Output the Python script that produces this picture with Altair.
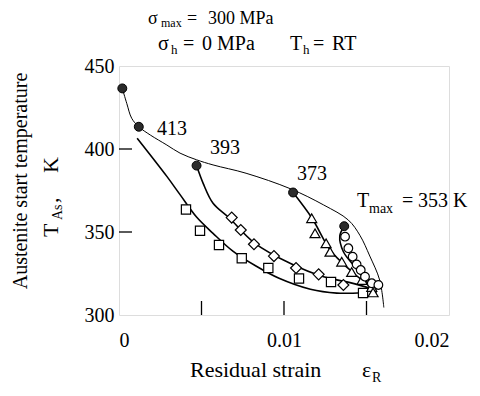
import altair as alt
import pandas as pd

FONT = "'Liberation Serif', 'Times New Roman', Times, 'DejaVu Serif', serif"

# ---- data (strain, temperature K) ----
# envelope (thin line through the filled points)
env_strain = [0.0002, 0.00047, 0.00077, 0.0012, 0.0019, 0.0029, 0.0037, 0.0047, 0.0057,
              0.0077, 0.0104, 0.0124, 0.0139, 0.0146, 0.0152, 0.0158, 0.01605]
env_T = [436.5, 427.5, 418.5, 413.4, 408.4, 402.4, 397.5, 393.5, 390.4,
         385.4, 376.0, 366.3, 357.2, 348.0, 335.5, 321.0, 304.5]

# filled points (start of each recovery curve)
fill_strain = [0.0002, 0.0012, 0.0047, 0.01055, 0.01365]
fill_T = [436.5, 413.4, 390.0, 373.8, 353.5]

# Tmax = 413 K : squares
sq_strain = [0.00406, 0.00491, 0.00606, 0.00744, 0.00905, 0.01091, 0.01285, 0.01479]
sq_T = [363.6, 350.8, 342.2, 334.2, 328.3, 322.0, 319.9, 313.3]
sq_fit_strain = [0.0011, 0.0029, 0.0037, 0.0047, 0.0057, 0.0069, 0.0083, 0.0097, 0.0116, 0.0132, 0.0148]
sq_fit_T = [406.5, 383.5, 372.5, 359.0, 349.2, 338.5, 329.5, 322.1, 315.5, 313.2, 313.4]

# Tmax = 393 K : diamonds
dm_strain = [0.00683, 0.00738, 0.00818, 0.00939, 0.01073, 0.0121, 0.0136]
dm_T = [358.7, 351.2, 342.6, 335.5, 328.3, 324.5, 318.1]
dm_fit_strain = [0.0047, 0.0051, 0.0057, 0.0067, 0.0082, 0.0104, 0.0124, 0.0140, 0.0156]
dm_fit_T = [390.0, 379.3, 367.3, 358.3, 343.5, 331.0, 323.0, 319.5, 315.0]

# Tmax = 373 K : triangles
tr_strain = [0.01168, 0.01188, 0.01255, 0.01279, 0.0135, 0.0141, 0.01473, 0.01532, 0.0154]
tr_T = [358.3, 349.2, 343.2, 338.1, 332.1, 325.9, 321.1, 316.9, 313.6]
tr_fit_strain = [0.01055, 0.0117, 0.0128, 0.0140, 0.0152, 0.0156]
tr_fit_T = [373.8, 358.3, 339.2, 327.1, 317.0, 313.0]

# Tmax = 353 K : circles
ci_strain = [0.0137, 0.0139, 0.01416, 0.0144, 0.01465, 0.01491, 0.01532, 0.01572]
ci_T = [347.2, 340.2, 335.1, 330.5, 327.1, 323.1, 319.1, 318.1]
ci_fit_strain = [0.01365, 0.01338, 0.0136, 0.0142, 0.0149, 0.0154]
ci_fit_T = [353.5, 347.5, 338.1, 330.1, 321.1, 315.5]

x_ticks_inner = [0.005, 0.01, 0.015]
y_ticks_inner = [350, 400]
x_labels = [0, 0.01, 0.02]
y_labels = [300, 350, 400, 450]

W, H = 330, 249

XS = alt.Scale(domain=[0, 0.02], nice=False, zero=False)
YS = alt.Scale(domain=[300, 450], nice=False, zero=False)
XA = alt.Axis(values=x_labels, format="~g", ticks=False, domain=False, grid=False, title=None,
              labelFont=FONT, labelFontSize=20, labelColor="black", labelPadding=15)
YA = alt.Axis(values=y_labels, ticks=False, domain=False, grid=False, title=None,
              labelFont=FONT, labelFontSize=20, labelColor="black", labelPadding=5)


def X(f):
    return alt.X(f, type="quantitative", scale=XS, axis=XA)


def Y(f):
    return alt.Y(f, type="quantitative", scale=YS, axis=YA)


def df_line(name, xs, ys):
    return pd.DataFrame({"s": xs, "T": ys, "series": name, "i": list(range(len(xs)))})


env_df = df_line("env", env_strain, env_T)
fit_df = pd.concat([
    df_line("413", sq_fit_strain, sq_fit_T),
    df_line("393", dm_fit_strain, dm_fit_T),
    df_line("373", tr_fit_strain, tr_fit_T),
    df_line("353", ci_fit_strain, ci_fit_T),
])

envelope = alt.Chart(env_df).mark_line(color="black", strokeWidth=1, interpolate="catmull-rom").encode(
    x=X("s"), y=Y("T"), order=alt.Order("i:Q"))
fits = alt.Chart(fit_df).mark_line(color="black", strokeWidth=1.6, interpolate="catmull-rom").encode(
    x=X("s"), y=Y("T"), detail="series:N", order=alt.Order("i:Q"))


def pts(xs, ys, shape, size):
    d = pd.DataFrame({"s": xs, "T": ys})
    return alt.Chart(d).mark_point(shape=shape, size=size, filled=True, fill="white", stroke="black",
                                   strokeWidth=1.2, opacity=1).encode(x=X("s"), y=Y("T"))


squares = pts(sq_strain, sq_T, "square", 85)
diamonds = pts(dm_strain, dm_T, "diamond", 120)
triangles = pts(tr_strain, tr_T, "triangle-up", 100)
circles = pts(ci_strain, ci_T, "circle", 75)
filled = alt.Chart(pd.DataFrame({"s": fill_strain, "T": fill_T})).mark_point(
    shape="circle", size=80, filled=True, fill="#2b2b2b", stroke="black", strokeWidth=1, opacity=1
).encode(x=X("s"), y=Y("T"))

xt = alt.Chart(pd.DataFrame({"s": x_ticks_inner})).mark_rule(color="black", strokeWidth=1.3).encode(
    x=X("s"), y=alt.value(H), y2=alt.value(H - 14))
yt = alt.Chart(pd.DataFrame({"T": y_ticks_inner})).mark_rule(color="black", strokeWidth=1.3).encode(
    y=Y("T"), x=alt.value(0), x2=alt.value(13))

ONE = alt.Data(values=[{}])


def txt(t, x, y, size=20, angle=0, align="left"):
    return alt.Chart(ONE).mark_text(text=t, font=FONT, fontSize=size, angle=angle, align=align,
                                    baseline="alphabetic", color="black").encode(
        x=alt.value(x), y=alt.value(y))


# origin of plot area in page: (119, 66)
texts = [
    # header line 1: sigma_max = 300 MPa
    txt("σ", 29, -42, 18), txt("max", 42, -39, 12), txt("=", 68, -42, 18), txt("300 MPa", 89, -42, 18),
    # header line 2: sigma_h = 0 MPa     T_h = RT
    txt("σ", 39, -16), txt("h", 52, -12, 13), txt("=", 64, -16), txt("0 MPa", 83, -16),
    txt("T", 171, -16), txt("h", 184, -12, 13), txt("=", 194, -16), txt("RT", 213, -16),
    # curve labels
    txt("413", 38, 69), txt("393", 91, 88), txt("373", 178, 114),
    txt("T", 238, 141), txt("max", 250, 147, 14), txt("=", 283, 141), txt("353 K", 299, 141),
    # x title
    txt("Residual strain", 71, 311, 22), txt("ε", 243, 311, 22), txt("R", 253, 316, 14),
    # y title
    txt("Austenite start temperature", -92, 115, 20, 270, "center"),
    txt("T", -61, 171, 22, 270), txt("As", -57, 154, 14, 270), txt(",", -61, 137, 22, 270),
    txt("K", -61, 107, 22, 270),
]

chart = alt.layer(envelope, fits, squares, diamonds, triangles, circles, filled, xt, yt, *texts).properties(
    width=W, height=H,
    autosize=alt.AutoSizeParams(type="none"),
    padding={"left": 111, "top": 58, "right": 23, "bottom": 73},
).configure_view(stroke="black", strokeWidth=1.5).configure(background="white")

chart.save("out.html", embed_options={"renderer": "svg", "actions": False})
